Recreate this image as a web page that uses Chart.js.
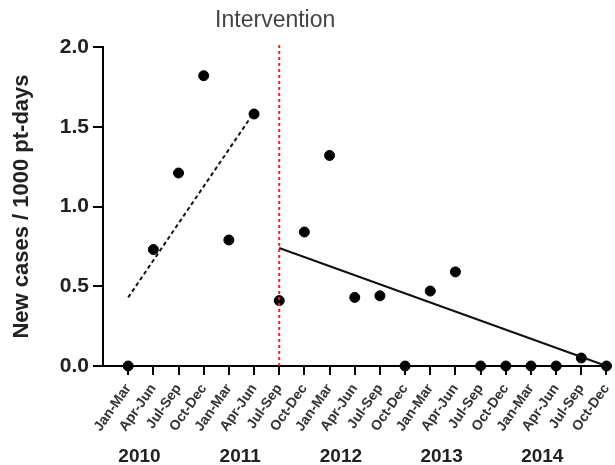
<!DOCTYPE html>
<html>
<head>
<meta charset="utf-8">
<script src="https://cdn.jsdelivr.net/npm/chart.js@4"></script>
<style>
  html, body { margin: 0; padding: 0; background: #fff; }
  #wrap { width: 615px; height: 465px; }
</style>
</head>
<body>
<div id="wrap"><canvas id="chart1"></canvas></div>
<script>
const quarters = ['Jan-Mar','Apr-Jun','Jul-Sep','Oct-Dec','Jan-Mar','Apr-Jun','Jul-Sep','Oct-Dec',
  'Jan-Mar','Apr-Jun','Jul-Sep','Oct-Dec','Jan-Mar','Apr-Jun','Jul-Sep','Oct-Dec',
  'Jan-Mar','Apr-Jun','Jul-Sep','Oct-Dec'];
const years = ['2010','2011','2012','2013','2014'];
const cases = [0, 0.73, 1.21, 1.82, 0.79, 1.58, 0.41, 0.84, 1.32, 0.43,
  0.44, 0, 0.47, 0.59, 0, 0, 0, 0, 0.05, 0];
// trend lines before / after the intervention (quarter index, value)
const preTrend = [[0, 0.43], [5, 1.59]];
const postTrend = [[6, 0.74], [19, 0.0]];
const interventionAt = 6;

const FONT = '"Liberation Sans", Arial, sans-serif';

const yearLabels = {
  id: 'yearLabels',
  afterDraw(chart) {
    const ctx = chart.ctx;
    const x = chart.scales.x;
    ctx.save();
    ctx.font = 'bold 19px ' + FONT;
    ctx.fillStyle = '#222';
    ctx.textAlign = 'center';
    ctx.textBaseline = 'middle';
    years.forEach((y, i) => ctx.fillText(y, x.getPixelForValue(i * 4 + 0.45), 457));
    ctx.font = '23px ' + FONT;
    ctx.fillStyle = '#444';
    ctx.fillText('Intervention', x.getPixelForValue(interventionAt) - 4, 21);
    ctx.restore();
  }
};

const chart1 = new Chart(document.getElementById('chart1'), {
  type: 'scatter',
  plugins: [yearLabels],
  options: {
    responsive: true,
    maintainAspectRatio: false,
    animation: false,
    layout: { padding: { top: 47, right: 4, left: 0, bottom: 0 } },
    plugins: {
      legend: { display: false },
      tooltip: { enabled: false }
    },
    scales: {
      x: {
        type: 'linear',
        min: -1,
        max: 19.1,
        afterBuildTicks: s => { s.ticks = quarters.map((q, i) => ({ value: i })); },
        afterFit: s => { s.height = 99; s.paddingLeft = 0; s.paddingRight = 0; },
        border: { color: '#000', width: 2 },
        grid: { drawOnChartArea: false, color: '#000', lineWidth: 2, tickLength: 9 },
        ticks: {
          autoSkip: false,
          maxRotation: 55,
          minRotation: 55,
          padding: 6,
          color: '#333',
          font: { family: FONT, size: 14, weight: 'bold' },
          callback: v => quarters[v]
        }
      },
      y: {
        min: 0,
        max: 2,
        afterFit: s => { s.width = 103; },
        border: { color: '#000', width: 2 },
        grid: { drawOnChartArea: false, color: '#000', lineWidth: 2, tickLength: 10 },
        ticks: {
          stepSize: 0.5,
          padding: 4,
          color: '#222',
          font: { family: FONT, size: 21, weight: 'bold' },
          callback: v => v.toFixed(1)
        },
        title: {
          display: true,
          text: 'New cases / 1000 pt-days',
          color: '#222',
          padding: { top: 9, bottom: 0 },
          font: { family: FONT, size: 22, weight: 'bold' }
        }
      }
    }
  },
  data: {
    datasets: [{
      type: 'line',
      data: [{ x: interventionAt, y: 0 }, { x: interventionAt, y: 2.03 }],
      borderColor: '#e8262a',
      borderWidth: 2,
      borderDash: [3, 3],
      pointRadius: 0,
      clip: false
    }, {
      type: 'line',
      data: preTrend.map(p => ({ x: p[0], y: p[1] })),
      borderColor: '#111',
      borderWidth: 2,
      borderDash: [4, 3],
      pointRadius: 0
    }, {
      type: 'line',
      data: postTrend.map(p => ({ x: p[0], y: p[1] })),
      borderColor: '#111',
      borderWidth: 2,
      pointRadius: 0,
      clip: false
    }, {
      data: cases.map((v, i) => ({ x: i, y: v })),
      backgroundColor: '#000',
      borderColor: '#000',
      pointRadius: 5,
      clip: false
    }]
  }
});
</script>
</body>
</html>
